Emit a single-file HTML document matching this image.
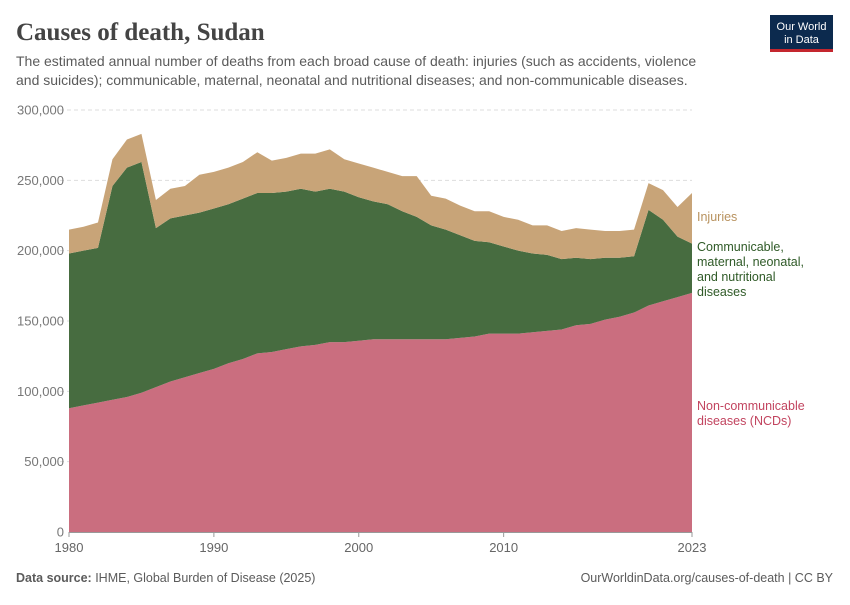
<!DOCTYPE html>
<html><head><meta charset="utf-8">
<style>
body{margin:0;background:#fff;font-family:"Liberation Sans",sans-serif;}
</style></head>
<body>
<svg id="chart" width="850" height="600" viewBox="0 0 850 600" font-family="Liberation Sans, sans-serif">
<text x="16" y="40" style="font-family:'Liberation Serif',serif" font-weight="bold" font-size="25" fill="#444">Causes of death, Sudan</text>
<text x="16" y="66" font-size="14" fill="#5b5b5b">The estimated annual number of deaths from each broad cause of death: injuries (such as accidents, violence</text>
<text x="16" y="85" font-size="14" fill="#5b5b5b">and suicides); communicable, maternal, neonatal and nutritional diseases; and non-communicable diseases.</text>
<g>
<rect x="770" y="15" width="63" height="37" fill="#0c2a4e"/>
<rect x="770" y="49" width="63" height="3" fill="#c4262e"/>
<text x="801.5" y="30" font-size="11" fill="#fff" text-anchor="middle">Our World</text>
<text x="801.5" y="43" font-size="11" fill="#fff" text-anchor="middle">in Data</text>
</g>
<g id="grid"></g>
<g id="areas"></g>
<g id="axes"></g>
<text x="697" y="221" font-size="12.5" fill="#b8925f">Injuries</text>
<g font-size="12.5" fill="#2f5a27">
<text x="697" y="251">Communicable,</text><text x="697" y="266">maternal, neonatal,</text><text x="697" y="281">and nutritional</text><text x="697" y="296">diseases</text></g>
<g font-size="12.5" fill="#c2445f">
<text x="697" y="410">Non-communicable</text><text x="697" y="425">diseases (NCDs)</text></g>
<text x="16" y="582" font-size="12.5" fill="#5b5b5b"><tspan font-weight="bold">Data source:</tspan> IHME, Global Burden of Disease (2025)</text>
<text x="833" y="582" font-size="12.5" fill="#5b5b5b" text-anchor="end">OurWorldinData.org/causes-of-death | CC BY</text>
</svg>
<script>
const years = [];
for (let y = 1980; y <= 2023; y++) years.push(y);
const ncd = [88,90,92,94,96,99,103,107,110,113,116,120,123,127,128,130,132,133,135,135,136,137,137,137,137,137,137,138,139,141,141,141,142,143,144,147,148,151,153,156,161,164,167,170];
const cmnn = [110,110,110,152,163,164,113,116,115,114,114,113,114,114,113,112,112,109,109,107,102,98,96,91,87,81,78,73,68,65,62,59,56,54,50,48,46,44,42,40,68,58,43,35];
const injuries = [17,17,18,19,20,20,20,21,21,27,26,26,26,29,23,24,25,27,28,23,24,24,23,25,29,21,22,21,21,22,21,22,20,21,20,21,21,19,19,19,19,21,21,36];
const yTicks = [0,50,100,150,200,250,300];
const xTicks = [1980,1990,2000,2010,2023];

const NS = "http://www.w3.org/2000/svg";
const x = yr => 69 + (yr - 1980) * (692 - 69) / 43;
const y = v => 532 - v * (422 / 300);
const grid = document.getElementById('grid'), axes = document.getElementById('axes'), areas = document.getElementById('areas');

yTicks.forEach(t => {
  if (t > 0) {
    const l = document.createElementNS(NS, 'line');
    
    
    l.setAttribute('x1', 60); l.setAttribute('x2', 692);
    l.setAttribute('y1', y(t)); l.setAttribute('y2', y(t));
    l.setAttribute('stroke', '#ddd'); l.setAttribute('stroke-dasharray', '4,3');
    grid.appendChild(l);
  }
  const tx = document.createElementNS(NS, 'text');
  
  
  tx.setAttribute('x', 64); tx.setAttribute('y', y(t) + 4.5);
  tx.setAttribute('text-anchor', 'end'); tx.setAttribute('font-size', '13'); tx.setAttribute('fill', '#777');
  tx.textContent = t === 0 ? '0' : (t + ',000');
  axes.appendChild(tx);
});

const series = [ncd, cmnn, injuries];
const colors = ['#ca6e7f', '#476c40', '#c8a478'];
const names = ['area-ncd', 'area-cmnn', 'area-injuries'];
let base = years.map(() => 0);
series.forEach((s, i) => {
  const top = base.map((b, j) => b + s[j]);
  let d = top.map((v, j) => (j ? 'L' : 'M') + x(years[j]) + ',' + y(v)).join('');
  for (let j = years.length - 1; j >= 0; j--) d += 'L' + x(years[j]) + ',' + y(base[j]);
  const p = document.createElementNS(NS, 'path');
  
  
  p.setAttribute('d', d + 'Z'); p.setAttribute('fill', colors[i]);
  areas.appendChild(p);
  base = top;
});

const ax = document.createElementNS(NS, 'line');


ax.setAttribute('x1', 69); ax.setAttribute('x2', 692); ax.setAttribute('y1', 532.5); ax.setAttribute('y2', 532.5);
ax.setAttribute('stroke', '#999');
axes.appendChild(ax);
xTicks.forEach(t => {
  const tk = document.createElementNS(NS, 'line');
  
  
  tk.setAttribute('x1', x(t)); tk.setAttribute('x2', x(t)); tk.setAttribute('y1', 532); tk.setAttribute('y2', 537);
  tk.setAttribute('stroke', '#999');
  axes.appendChild(tk);
  const tx = document.createElementNS(NS, 'text');
  
  
  tx.setAttribute('x', x(t)); tx.setAttribute('y', 552);
  tx.setAttribute('text-anchor', 'middle'); tx.setAttribute('font-size', '13'); tx.setAttribute('fill', '#666');
  tx.textContent = t;
  axes.appendChild(tx);
});
</script>
</body></html>
